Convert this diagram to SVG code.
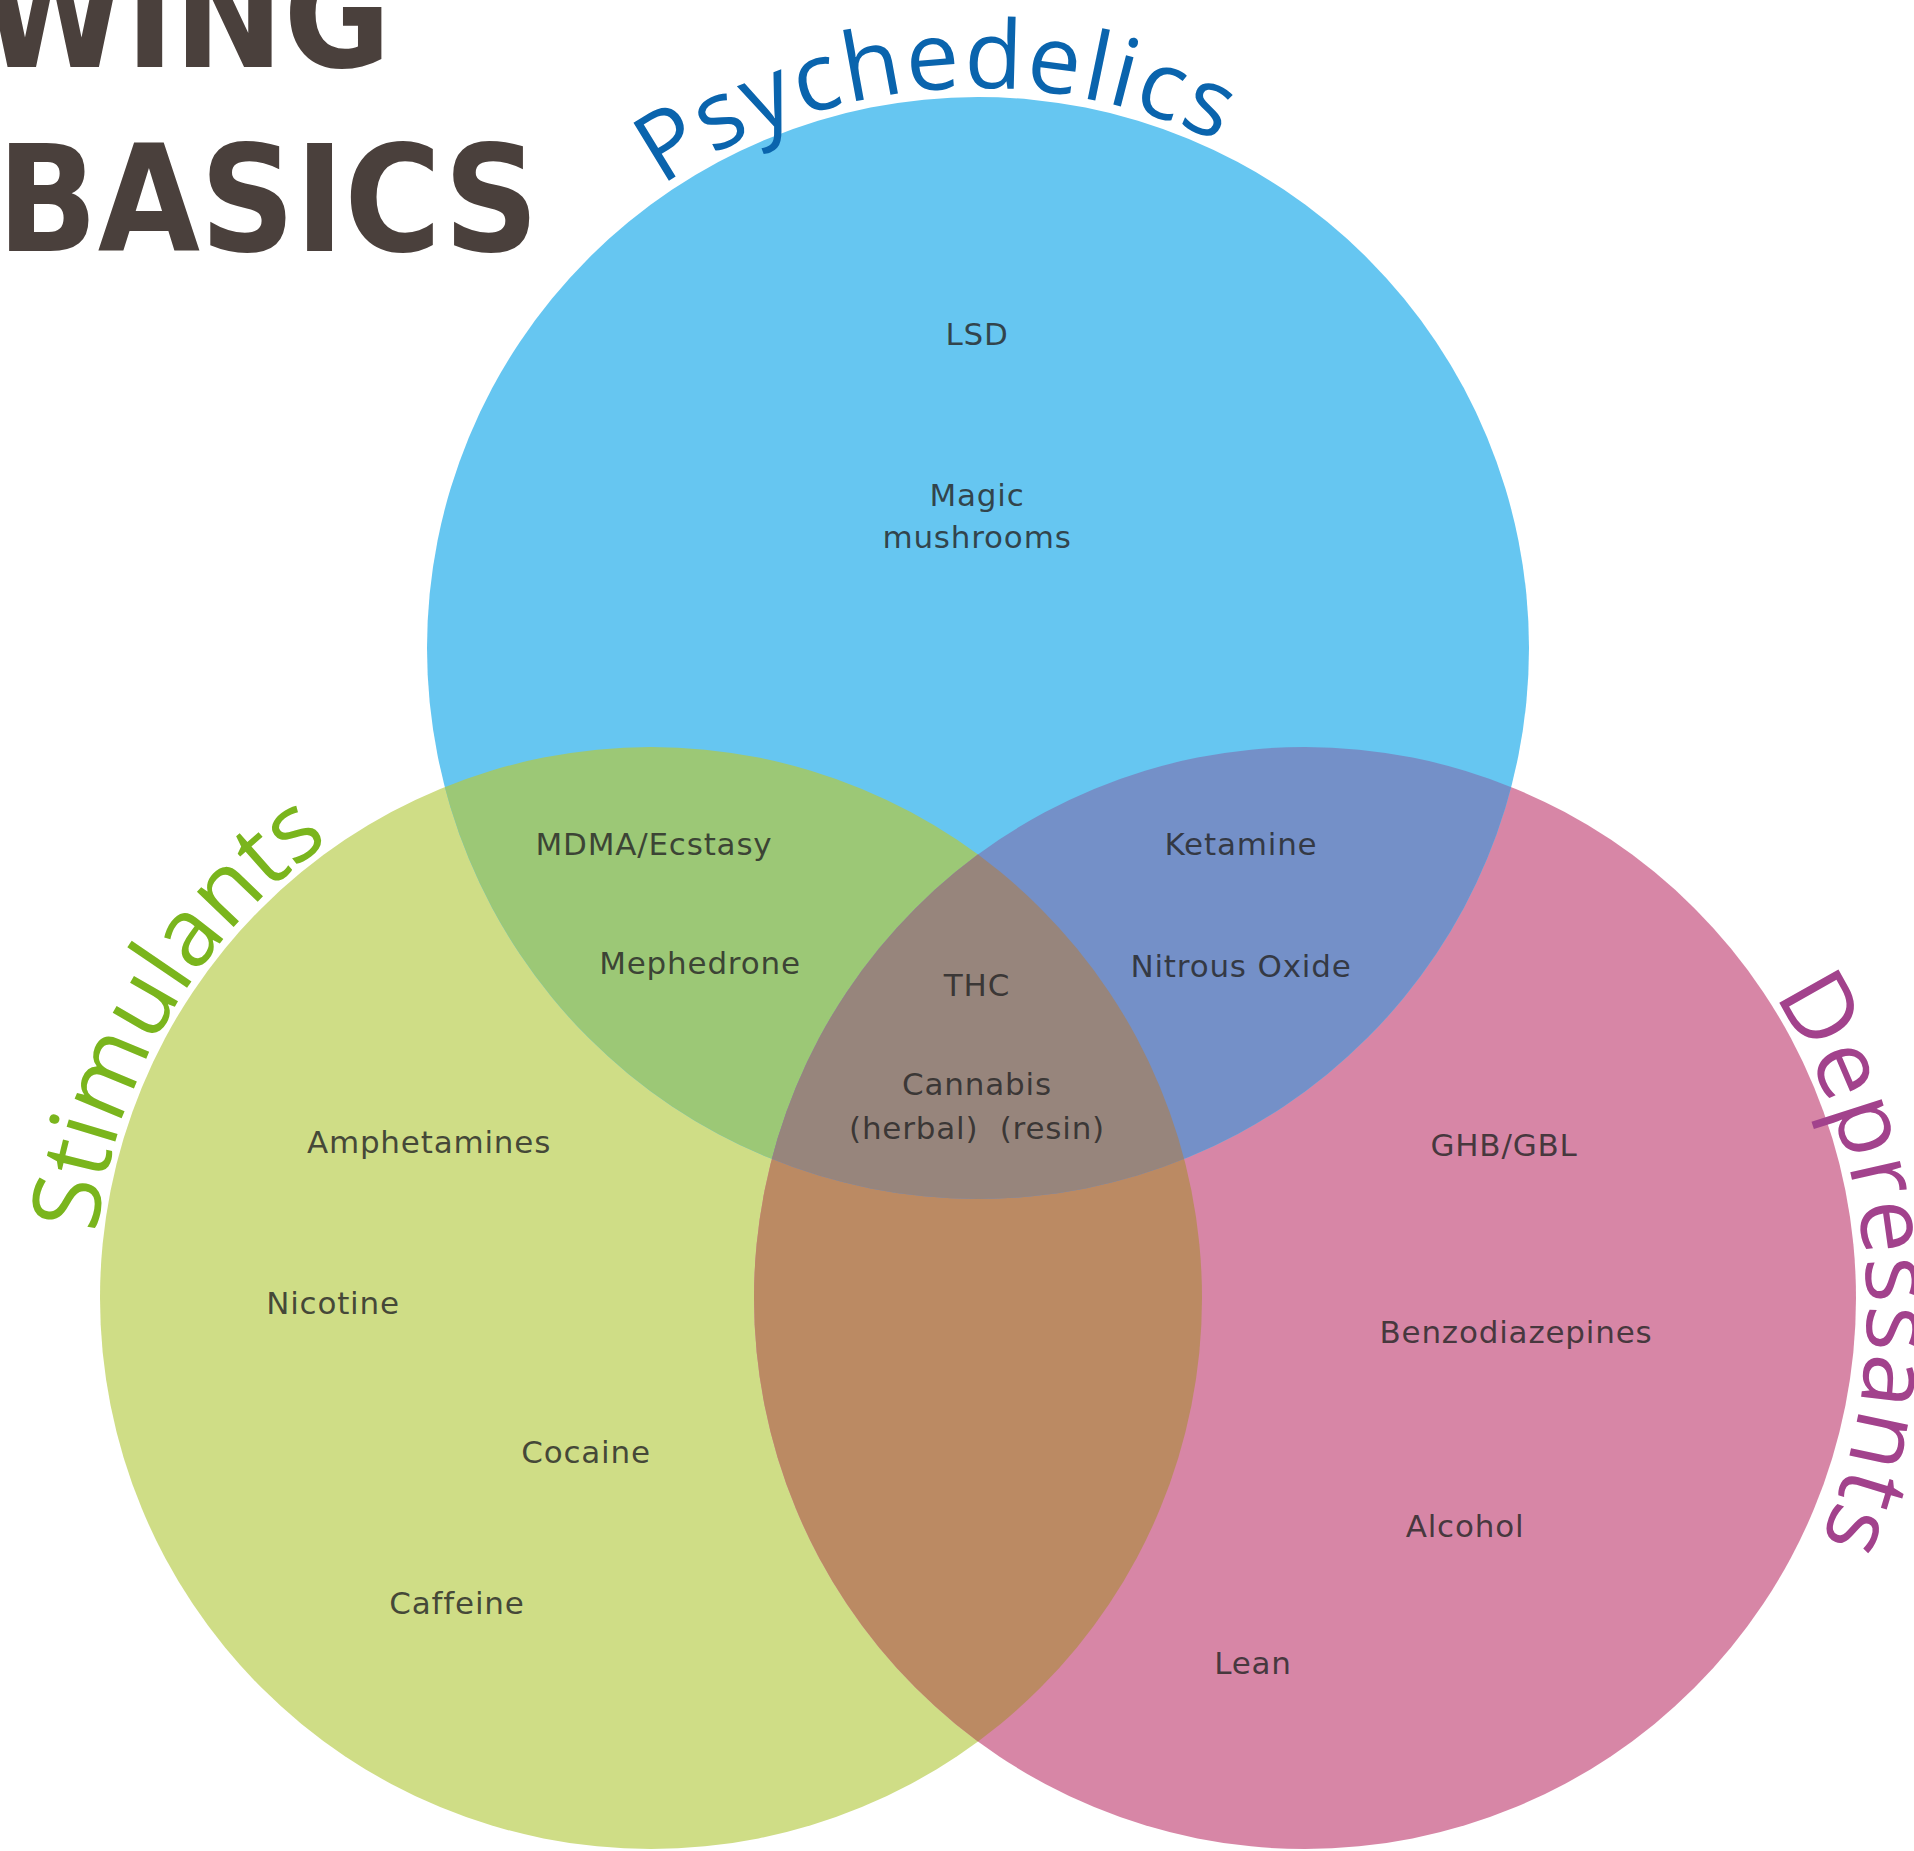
<svg xmlns="http://www.w3.org/2000/svg" xmlns:xlink="http://www.w3.org/1999/xlink" width="1914" height="1851" viewBox="0 0 1914 1851">
  <style>
    .title { font-family: "DejaVu Sans Condensed", "DejaVu Sans", sans-serif; font-weight: bold; font-size: 148px; fill: #4a403c; }
    .set { font-family: "Open Sans", "DejaVu Sans", sans-serif; font-size: 95px; }
    .item { font-family: "DejaVu Sans", sans-serif; font-size: 31px; letter-spacing: 0.8px; fill: #262626; fill-opacity: 0.82; text-anchor: middle; }
  </style>
  <defs>
    <clipPath id="clip-psy"><circle cx="978" cy="648" r="551"/></clipPath>
    <clipPath id="clip-sti"><circle cx="651" cy="1298" r="551"/></clipPath>
    <clipPath id="clip-dep"><circle cx="1305" cy="1298" r="551"/></clipPath>
    <path id="arc-psy" d="M 418 648 A 560 560 0 0 1 1538 648"/>
    <path id="arc-sti" d="M 93 1298 A 558 558 0 0 1 651 740"/>
    <path id="arc-dep" d="M 1281 726 A 586 586 0 0 1 1281 1898"/>
  </defs>

  <rect width="1914" height="1851" fill="#ffffff"/>

  <!-- heading, cropped at the top-left edge -->
  <g id="heading">
    <text class="title" x="391" y="67" text-anchor="end" textLength="410" lengthAdjust="spacingAndGlyphs">WING</text>
    <text class="title" x="-3" y="251" textLength="542" lengthAdjust="spacingAndGlyphs">BASICS</text>
  </g>

  <!-- the three sets and their overlaps -->
  <g id="venn">
    <circle id="set-stimulants" cx="651" cy="1298" r="551" fill="#cfdd86"/>
    <circle id="set-depressants" cx="1305" cy="1298" r="551" fill="#d786a6"/>
    <circle id="set-psychedelics" cx="978" cy="648" r="551" fill="#66c6f1"/>
    <g clip-path="url(#clip-sti)">
      <circle cx="978" cy="648" r="551" fill="#9cc876"/>
      <circle cx="1305" cy="1298" r="551" fill="#bb8a63"/>
    </g>
    <g clip-path="url(#clip-dep)">
      <circle cx="978" cy="648" r="551" fill="#7490c8"/>
    </g>
    <g clip-path="url(#clip-sti)">
      <g clip-path="url(#clip-dep)">
        <circle cx="978" cy="648" r="551" fill="#97857c"/>
      </g>
    </g>
  </g>

  <!-- curved set names -->
  <g id="set-names">
    <text class="set" fill="#0a64ad"><textPath xlink:href="#arc-psy" href="#arc-psy" startOffset="47.5%" text-anchor="middle" textLength="585" lengthAdjust="spacing">Psychedelics</textPath></text>
    <text class="set" fill="#7ab51d"><textPath xlink:href="#arc-sti" href="#arc-sti" startOffset="34.2%" text-anchor="middle" textLength="470" lengthAdjust="spacing">Stimulants</textPath></text>
    <text class="set" fill="#a2428c"><textPath xlink:href="#arc-dep" href="#arc-dep" startOffset="47.3%" text-anchor="middle" textLength="570" lengthAdjust="spacing">Depressants</textPath></text>
  </g>

  <!-- substances -->
  <g id="item-lsd"><text class="item" x="977" y="345">LSD</text></g>
  <g id="item-magic-mushrooms"><text class="item" x="977" y="506">Magic</text><text class="item" x="977" y="548">mushrooms</text></g>
  <g id="item-mdma"><text class="item" x="654" y="855">MDMA/Ecstasy</text></g>
  <g id="item-mephedrone"><text class="item" x="700" y="974">Mephedrone</text></g>
  <g id="item-thc"><text class="item" x="977" y="996">THC</text></g>
  <g id="item-cannabis"><text class="item" x="977" y="1095">Cannabis</text><text class="item" x="977" y="1139" xml:space="preserve">(herbal)  (resin)</text></g>
  <g id="item-ketamine"><text class="item" x="1241" y="855">Ketamine</text></g>
  <g id="item-nitrous-oxide"><text class="item" x="1241" y="977">Nitrous Oxide</text></g>
  <g id="item-amphetamines"><text class="item" x="429" y="1153">Amphetamines</text></g>
  <g id="item-nicotine"><text class="item" x="333" y="1314">Nicotine</text></g>
  <g id="item-cocaine"><text class="item" x="586" y="1463">Cocaine</text></g>
  <g id="item-caffeine"><text class="item" x="457" y="1614">Caffeine</text></g>
  <g id="item-ghb-gbl"><text class="item" x="1504" y="1156">GHB/GBL</text></g>
  <g id="item-benzodiazepines"><text class="item" x="1516" y="1343">Benzodiazepines</text></g>
  <g id="item-alcohol"><text class="item" x="1465" y="1537">Alcohol</text></g>
  <g id="item-lean"><text class="item" x="1253" y="1674">Lean</text></g>
</svg>
